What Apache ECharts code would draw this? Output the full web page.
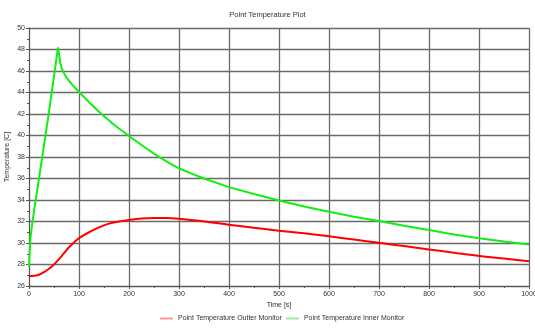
<!DOCTYPE html>
<html>
<head>
<meta charset="utf-8">
<script src="https://cdn.jsdelivr.net/npm/echarts@6/dist/echarts.min.js"></script>
<style>
  html, body { margin: 0; padding: 0; background: #fff; }
  #chart { width: 535px; height: 330px; }
</style>
</head>
<body>
<div id="chart"></div>
<script>
// time [s] / temperature [C]
var timeOuter = [0, 10, 20, 30, 40, 50, 60, 70, 80, 90, 100, 120, 140, 160, 180, 200, 225, 250, 275, 300, 350, 400, 450, 500, 550, 600, 650, 700, 750, 800, 850, 900, 950, 1000]
var tempOuter = [26.9, 26.95, 27.05, 27.3, 27.6, 28.0, 28.5, 29.05, 29.6, 30.05, 30.45, 31.0, 31.45, 31.8, 32.0, 32.15, 32.28, 32.32, 32.32, 32.25, 32.0, 31.7, 31.42, 31.15, 30.9, 30.62, 30.32, 30.02, 29.72, 29.4, 29.1, 28.8, 28.55, 28.3]

var timeInner = [0, 1, 3, 7, 20, 40, 58, 60, 62, 65, 70, 75, 85, 100, 120, 145, 170, 200, 230, 255, 280, 300, 325, 350, 400, 450, 500, 550, 600, 650, 700, 750, 800, 850, 900, 950, 1000]
var tempInner = [27.8, 29.0, 30.5, 32.0, 36.0, 42.2, 48.2, 47.6, 46.9, 46.3, 45.8, 45.4, 44.8, 44.05, 43.1, 42.0, 41.0, 39.95, 38.95, 38.15, 37.45, 36.95, 36.45, 36.0, 35.2, 34.55, 33.95, 33.4, 32.9, 32.45, 32.05, 31.6, 31.2, 30.8, 30.45, 30.15, 29.85]

var seriesNames = ['Point Temperature Outter Monitor', 'Point Temperature Inner Monitor']

function pairs(xs, ys) {
  var out = []
  for (var i = 0; i < xs.length; i++) out.push([xs[i], ys[i]])
  return out
}

var myChart = echarts.init(document.getElementById('chart'))
var fontName = 'Liberation Sans'
var gridLine = { lineStyle: { color: '#6a6a6a', width: 1.3 } }
var option = {
  animation: false,
  textStyle: { fontFamily: fontName },
  title: {
    text: 'Point Temperature Plot',
    left: 'center',
    top: 6,
    textStyle: { fontSize: 7.5, fontWeight: 'normal', color: '#333', fontFamily: fontName }
  },
  legend: {
    bottom: 3,
    left: 155,
    icon: 'rect',
    itemWidth: 13,
    itemHeight: 2,
    itemGap: 4,
    textStyle: { fontSize: 7, color: '#333', fontFamily: fontName },
    data: [
      { name: seriesNames[0], itemStyle: { color: '#ff9999' } },
      { name: seriesNames[1], itemStyle: { color: '#99ee99' } }
    ]
  },
  grid: { left: 29, right: 6, top: 28, bottom: 44, containLabel: false, outerBoundsMode: 'none' },
  xAxis: {
    type: 'value',
    min: 0,
    max: 1000,
    interval: 100,
    name: 'Time [s]',
    nameLocation: 'middle',
    nameGap: 16,
    nameMoveOverlap: false,
    nameTextStyle: { fontSize: 7, color: '#333' },
    axisLine: { show: true, lineStyle: { color: '#555', width: 1 } },
    axisTick: { show: true, length: 3, lineStyle: { color: '#555' } },
    minorTick: { show: true, splitNumber: 2, length: 2, lineStyle: { color: '#555' } },
    axisLabel: { fontSize: 7, color: '#333', margin: 5, showMaxLabel: true, formatter: function (v) { return String(v) } },
    splitLine: gridLine
  },
  yAxis: {
    type: 'value',
    min: 26,
    max: 50,
    interval: 2,
    name: 'Temperature [C]',
    nameLocation: 'middle',
    nameGap: 18,
    nameMoveOverlap: false,
    nameTextStyle: { fontSize: 7, color: '#333' },
    axisLine: { show: true, lineStyle: { color: '#555', width: 1 } },
    axisTick: { show: true, length: 3, lineStyle: { color: '#555' } },
    minorTick: { show: true, splitNumber: 2, length: 2, lineStyle: { color: '#555' } },
    axisLabel: { fontSize: 7, color: '#333', margin: 4 },
    splitLine: gridLine
  },
  series: [
    {
      name: seriesNames[0],
      type: 'line',
      data: pairs(timeOuter, tempOuter),
      smooth: 0.3,
      showSymbol: false,
      lineStyle: { color: '#ff0000', width: 2 },
      itemStyle: { color: '#ff0000' }
    },
    {
      name: seriesNames[1],
      type: 'line',
      data: pairs(timeInner, tempInner),
      smooth: false,
      showSymbol: false,
      lineStyle: { color: '#11ee11', width: 2 },
      itemStyle: { color: '#11ee11' }
    }
  ]
}
myChart.setOption(option, true)
</script>
</body>
</html>
